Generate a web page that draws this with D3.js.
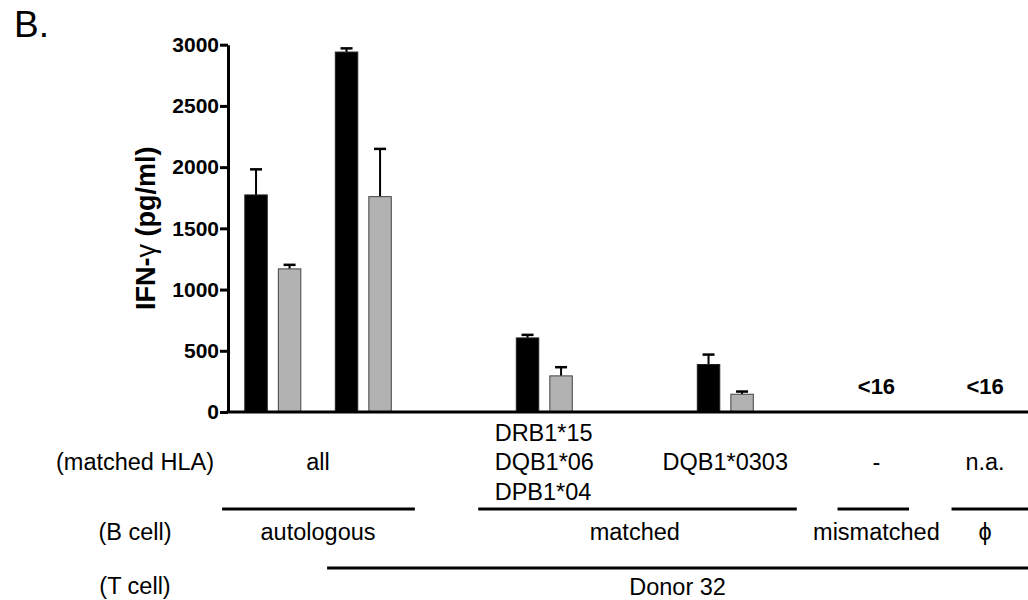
<!DOCTYPE html>
<html>
<head>
<meta charset="utf-8">
<script src="https://cdn.jsdelivr.net/npm/d3@7"></script>
<style>
  body { margin: 0; background: #fff; }
  text { font-family: "Liberation Sans", Arial, Helvetica, sans-serif; fill: #000; }
</style>
</head>
<body>
<div id="chart"></div>
<script>
// data
var groups = ["auto-1", "auto-2", "matched-1", "matched-2", "mismatched", "none"];
var blackValues = [1773, 2940, 605, 388, null, null];
var blackErrors = [209, 30, 25, 81, null, null];
var grayValues = [1169, 1759, 295, 145, null, null];
var grayErrors = [33, 390, 71, 22, null, null];
var belowLimit = ["", "", "", "", "<16", "<16"];
var yTicks = [0, 500, 1000, 1500, 2000, 2500, 3000];

var hlaLabels = [["all"], ["DRB1*15", "DQB1*06", "DPB1*04"], ["DQB1*0303"], ["-"], ["n.a."]];
var hlaGroups = [[0, 1], [2], [3], [4], [5]];
var bCellLabels = ["autologous", "matched", "mismatched", "\u03d5"];
var bCellGroups = [[0, 1], [2, 3], [4], [5]];
var tCellLabel = "Donor 32";

// layout: column positions along the x axis (axis units)
var groupPos = [1, 2, 4, 6, 7.67, 8.87];
var bCellSpans = [[0.44, 2.57], [3.27, 6.79], [7.24, 8.03], [8.5, 9.5]];
var tCellSpan = [1.6, 9.5];

var svgWidth = 1028;
var svgHeight = 600;

var svg = d3.select("#chart")
    .append("svg")
    .attr("width", svgWidth)
    .attr("height", svgHeight);

var x = d3.scaleLinear().domain([0, 1]).range([182.3, 272.8]);
var y = d3.scaleLinear().domain([0, 3000]).range([412, 44.7]);
var sub = d3.scaleBand().domain(["black", "gray"]).range([-28, 28]).paddingInner(0.33);

// panel letter
svg.append("text")
    .attr("x", 14)
    .attr("y", 37)
    .attr("font-size", 37)
    .text("B.");

// y axis
var yAxis = svg.append("g")
    .attr("transform", "translate(" + x(0.505) + ",0)")
    .call(d3.axisLeft(y).tickValues(yTicks).tickFormat(d3.format("d"))
        .tickSize(8).tickSizeOuter(0).tickPadding(1));

yAxis.select(".domain").attr("stroke", "#000").attr("stroke-width", 3);
yAxis.selectAll(".tick line").attr("stroke", "#000").attr("stroke-width", 3);
yAxis.selectAll(".tick text")
    .attr("font-size", 21)
    .attr("font-weight", "bold")
    .attr("font-family", "'Liberation Sans', Arial, sans-serif")
    .attr("fill", "#000");

// y title
var yTitle = svg.append("text")
    .attr("transform", "translate(155," + y(1500) + ") rotate(-90)")
    .attr("text-anchor", "middle")
    .attr("font-size", 27)
    .attr("font-weight", "bold");
yTitle.append("tspan").text("IFN-");
yTitle.append("tspan").attr("font-weight", "normal").text("\u03b3");
yTitle.append("tspan").text(" (pg/ml)");

// bars
var barData = groups.map(function (g, i) {
    return [
        { key: "black", i: i, value: blackValues[i], err: blackErrors[i] },
        { key: "gray", i: i, value: grayValues[i], err: grayErrors[i] }
    ];
});

var cols = svg.append("g").selectAll("g.col")
    .data(barData)
    .enter()
    .append("g")
    .attr("class", "col")
    .attr("transform", function (d, i) { return "translate(" + x(groupPos[i]) + ",0)"; });

var bars = cols.selectAll("g.bar")
    .data(function (d) { return d.filter(function (b) { return b.value != null; }); })
    .enter()
    .append("g")
    .attr("class", "bar");

// error bars (upper only) drawn behind the bars
bars.append("line")
    .attr("x1", function (d) { return sub(d.key) + sub.bandwidth() / 2; })
    .attr("x2", function (d) { return sub(d.key) + sub.bandwidth() / 2; })
    .attr("y1", function (d) { return y(d.value); })
    .attr("y2", function (d) { return y(d.value + d.err); })
    .attr("stroke", "#000")
    .attr("stroke-width", 2);

bars.append("line")
    .attr("x1", function (d) { return sub(d.key) + sub.bandwidth() / 2 - 6; })
    .attr("x2", function (d) { return sub(d.key) + sub.bandwidth() / 2 + 6; })
    .attr("y1", function (d) { return y(d.value + d.err); })
    .attr("y2", function (d) { return y(d.value + d.err); })
    .attr("stroke", "#000")
    .attr("stroke-width", 2.5);

bars.append("rect")
    .attr("x", function (d) { return sub(d.key); })
    .attr("width", sub.bandwidth())
    .attr("y", function (d) { return y(d.value); })
    .attr("height", function (d) { return y(0) - y(d.value); })
    .attr("fill", function (d) { return d.key === "black" ? "#000" : "#b2b2b2"; })
    .attr("stroke", function (d) { return d.key === "black" ? "#222" : "#444"; })
    .attr("stroke-width", 1);

// below detection limit labels
cols.append("text")
    .attr("x", 0)
    .attr("y", y(0) - 18)
    .attr("text-anchor", "middle")
    .attr("font-size", 22)
    .attr("font-weight", "bold")
    .text(function (d, i) { return belowLimit[i]; });

// x axis baseline
svg.append("line")
    .attr("x1", x(0.505) - 1.5)
    .attr("x2", svgWidth)
    .attr("y1", y(0))
    .attr("y2", y(0))
    .attr("stroke", "#000")
    .attr("stroke-width", 3);

// row labels under the chart
var rowX = 135;
var rowFont = 23.5;
function center(idx) {
    return d3.mean(idx, function (i) { return x(groupPos[i]); });
}

svg.append("text").attr("x", rowX).attr("y", 470).attr("text-anchor", "middle")
    .attr("font-size", rowFont).text("(matched HLA)");
svg.append("text").attr("x", rowX).attr("y", 540).attr("text-anchor", "middle")
    .attr("font-size", rowFont).text("(B cell)");
svg.append("text").attr("x", rowX).attr("y", 594).attr("text-anchor", "middle")
    .attr("font-size", rowFont).text("(T cell)");

// matched HLA (multi-line entries are left aligned as a block)
hlaLabels.forEach(function (lines, k) {
    var cx = center(hlaGroups[k]);
    var t = svg.append("text")
        .attr("font-size", rowFont);
    var spans = lines.map(function (line, j) {
        return t.append("tspan")
            .attr("y", 470 + (j - (lines.length - 1) / 2) * 29.5)
            .text(line);
    });
    var maxW = d3.max(spans, function (s) { return s.node().getComputedTextLength(); });
    spans.forEach(function (s) { s.attr("x", cx - maxW / 2); });
});

// B cell brackets and labels
bCellLabels.forEach(function (label, k) {
    svg.append("line")
        .attr("x1", x(bCellSpans[k][0]))
        .attr("x2", Math.min(svgWidth, x(bCellSpans[k][1])))
        .attr("y1", 509)
        .attr("y2", 509)
        .attr("stroke", "#000")
        .attr("stroke-width", 3);
    svg.append("text")
        .attr("x", center(bCellGroups[k]))
        .attr("y", 540)
        .attr("text-anchor", "middle")
        .attr("font-size", rowFont)
        .text(label);
});

// T cell bracket
svg.append("line")
    .attr("x1", x(tCellSpan[0]))
    .attr("x2", svgWidth)
    .attr("y1", 568)
    .attr("y2", 568)
    .attr("stroke", "#000")
    .attr("stroke-width", 3);

svg.append("text")
    .attr("x", (x(tCellSpan[0]) + svgWidth) / 2)
    .attr("y", 595)
    .attr("text-anchor", "middle")
    .attr("font-size", rowFont)
    .text(tCellLabel);
</script>
</body>
</html>
